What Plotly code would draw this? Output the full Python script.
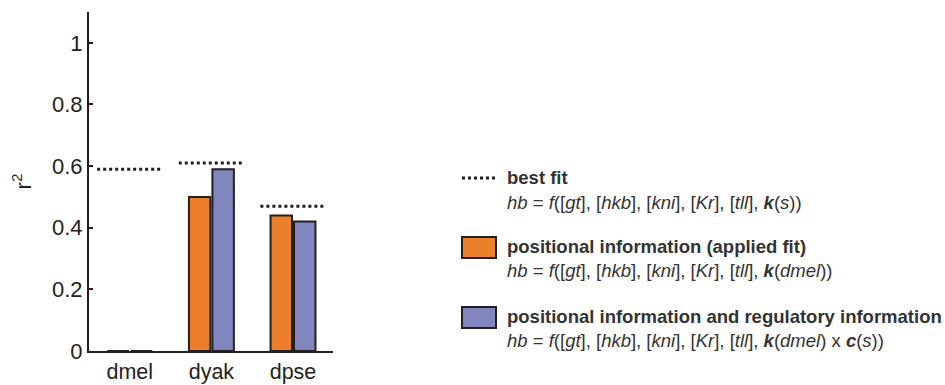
import plotly.graph_objects as go

# Data
species = ["dmel", "dyak", "dpse"]
positional = [0.0, 0.50, 0.44]
positional_regulatory = [0.0, 0.59, 0.42]
best_fit = [0.59, 0.61, 0.47]
y_ticks = [0, 0.2, 0.4, 0.6, 0.8, 1]

ORANGE = "#EC7F2A"
PURPLE = "#8187BE"
INK = "#231F20"
FONT = "Liberation Sans, Arial, Helvetica, sans-serif"

W, H = 945, 385
L, R, T, B = 89, 333, 12, 351  # plot area in pixels


def px(x):
    return (x - L) / (R - L)


def py(y):
    return (B - y) / (B - T)


xs = list(range(len(species)))

fig = go.Figure()
fig.add_trace(go.Bar(
    x=xs, y=positional, name="positional information (applied fit)",
    marker=dict(color=ORANGE, line=dict(color=INK, width=2)),
))
fig.add_trace(go.Bar(
    x=xs, y=positional_regulatory,
    name="positional information and regulatory information",
    marker=dict(color=PURPLE, line=dict(color=INK, width=2)),
))

# best fit level drawn as a dotted segment over each species group
bx, by = [], []
for i, v in zip(xs, best_fit):
    bx += [i - 0.4, i + 0.4, None]
    by += [v, v, None]
fig.add_trace(go.Scatter(
    x=bx, y=by, mode="lines", name="best fit",
    line=dict(color=INK, width=3, dash="dot"),
))

fig.update_layout(
    width=W, height=H,
    margin=dict(l=L, r=W - R, t=T, b=H - B, pad=0),
    paper_bgcolor="white", plot_bgcolor="white",
    showlegend=False,
    barmode="group", bargap=0.425, bargroupgap=0.085,
    font=dict(family=FONT, color=INK),
)
fig.update_xaxes(
    range=[-0.5, 2.49], tickmode="array", tickvals=xs, ticktext=species,
    showline=True, linecolor=INK, linewidth=1.5, ticks="",
    showgrid=False, zeroline=False, tickfont=dict(size=21.5, color=INK),
    automargin=False, ticklabelstandoff=0,
)
fig.update_yaxes(
    range=[0, 1.1], tickmode="array", tickvals=y_ticks,
    ticktext=[f"{t:g}" for t in y_ticks],
    showline=True, linecolor=INK, linewidth=2, ticks="inside", ticklen=4,
    tickwidth=1.5, tickcolor=INK, showgrid=False, zeroline=False,
    tickfont=dict(size=22, color=INK), automargin=False,
    title=dict(text="r<sup>2</sup>", font=dict(size=22, color=INK), standoff=14),
)

# Legend keys and descriptions
TEXT_X = 505
KEY_X0, KEY_X1 = 462, 496
shapes = [
    dict(type="line", xref="paper", yref="paper",
         x0=px(KEY_X0), x1=px(KEY_X1 - 1), y0=py(178), y1=py(178),
         line=dict(color=INK, width=3, dash="dot")),
    dict(type="rect", xref="paper", yref="paper",
         x0=px(KEY_X0), x1=px(KEY_X1), y0=py(258), y1=py(237),
         fillcolor=ORANGE, line=dict(color=INK, width=2)),
    dict(type="rect", xref="paper", yref="paper",
         x0=px(KEY_X0), x1=px(KEY_X1), y0=py(328), y1=py(307),
         fillcolor=PURPLE, line=dict(color=INK, width=2)),
]
fig.update_layout(shapes=shapes)

args = "<i>hb</i> = <i>f</i>([<i>gt</i>], [<i>hkb</i>], [<i>kni</i>], [<i>Kr</i>], [<i>tll</i>], "
legend_lines = [
    (177, "<b>best fit</b>"),
    (202, args + "<b><i>k</i></b>(<i>s</i>))"),
    (246, "<b>positional information (applied fit)</b>"),
    (270, args + "<b><i>k</i></b>(<i>dmel</i>))"),
    (316, "<b>positional information and regulatory information</b>"),
    (340, args + "<b><i>k</i></b>(<i>dmel</i>) x <b><i>c</i></b>(<i>s</i>))"),
]
for y, txt in legend_lines:
    fig.add_annotation(
        x=px(TEXT_X), y=py(y), xref="paper", yref="paper",
        xanchor="left", yanchor="middle", showarrow=False,
        text=txt, font=dict(size=18.5, color="#333333", family=FONT),
    )

fig.write_html("out.html")
